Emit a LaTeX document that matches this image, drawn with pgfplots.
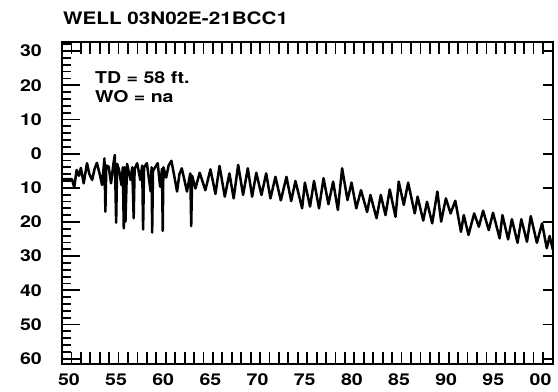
\documentclass[border=0pt]{standalone}
\usepackage{graphicx}
\usepackage{pgfplots}
\pgfplotsset{compat=1.18}
\usepackage{fontspec}
\setmainfont{TeX Gyre Heros}
\newcommand\labfont{\fontsize{16.3bp}{19.4bp}\selectfont\bfseries}
\newcommand\titfont{\fontsize{17.2bp}{20bp}\selectfont\bfseries}
\newcommand\sx[1]{\scalebox{1.2}[1]{#1}}
\pgfplotsset{base/.style={scale only axis, width=491bp, height=322.6bp,
  xmin=1949, xmax=2001.06, ymin=-32.75, ymax=61.66, y dir=reverse,
  at={(62bp,27.7bp)}, anchor=south west}}
\pgfplotstableread{
x y
1949.05 7.5
1950.05 7.5
1950.3 9.9
1950.55 4.8
1950.8 6.5
1951.0 4.2
1951.3 8.7
1951.65 2.8
1951.9 6.0
1952.2 7.7
1952.45 4.5
1952.7 2.7
1953.0 6.0
1953.25 9.2
1953.5 1.4
1953.6 17.0
1953.7 3.5
1953.95 3.8
1954.2 8.7
1954.45 3.0
1954.6 0.4
1954.74 20.2
1954.85 3.0
1955.05 4.8
1955.3 9.2
1955.45 4.0
1955.55 21.9
1955.63 4.0
1955.73 19.9
1955.9 3.0
1956.25 7.7
1956.45 4.0
1956.6 18.9
1956.7 4.5
1956.97 2.8
1957.3 7.7
1957.5 3.5
1957.6 22.2
1957.7 4.0
1958.0 2.8
1958.4 11.1
1958.5 4.0
1958.56 23.1
1958.65 5.0
1959.15 2.8
1959.4 9.7
1959.6 4.5
1959.68 22.6
1959.75 4.0
1960.05 7.0
1960.3 3.5
1960.6 2.1
1960.9 6.5
1961.2 11.1
1961.45 6.0
1961.7 4.3
1962.0 8.0
1962.25 11.1
1962.6 5.8
1962.7 21.2
1962.8 6.5
1963.15 10.2
1963.6 5.6
1964.2 10.7
1964.74 4.6
1965.27 11.8
1965.7 3.6
1966.26 12.6
1966.75 5.8
1967.2 13.1
1967.68 3.3
1968.2 12.1
1968.7 4.3
1969.16 12.6
1969.6 5.6
1970.15 12.1
1970.65 5.8
1971.1 13.1
1971.63 6.8
1972.2 13.7
1972.8 6.8
1973.3 13.9
1973.75 8.0
1974.46 16.0
1974.75 8.5
1975.3 15.5
1975.72 8.0
1976.25 16.0
1976.73 7.2
1977.25 14.8
1977.75 8.2
1978.25 16.5
1978.7 4.3
1979.27 13.6
1979.7 8.5
1980.2 16.0
1980.7 10.7
1981.35 17.1
1981.7 12.1
1982.35 18.9
1982.8 12.1
1983.3 18.0
1983.75 10.5
1984.36 18.5
1984.7 8.2
1985.24 15.0
1985.7 8.5
1986.4 17.5
1986.7 12.6
1987.3 19.6
1987.7 14.1
1988.25 20.4
1988.8 11.1
1989.2 19.9
1989.7 13.1
1990.2 17.5
1990.7 13.8
1991.3 22.9
1991.6 18.0
1992.1 23.8
1992.7 17.5
1993.2 21.4
1993.65 16.7
1994.25 22.4
1994.7 17.3
1995.4 24.8
1995.7 18.0
1996.3 25.1
1996.7 19.2
1997.3 26.1
1997.7 19.2
1998.3 25.8
1998.7 18.3
1999.35 26.1
1999.9 20.4
2000.4 27.7
2000.7 24.1
2001.05 28.2
}\welldata
\begin{document}
\begin{tikzpicture}
\begin{axis}[base,
  axis line style={line width=2bp},
  tick align=inside,
  major tick length=18bp, minor tick length=9bp,
  tick style={line width=1.8bp, black},
  xtick={1950,1955,...,2000},
  xticklabels={\sx{50},\sx{55},\sx{60},\sx{65},\sx{70},\sx{75},\sx{80},\sx{85},\sx{90},\sx{95},\sx{00}},
  xtick style={draw=none},
  xtick pos=left, ytick pos=left,
  ytick={-30,-20,...,60},
  yticklabels={\sx{30},\sx{20},\sx{10},\sx{0},\sx{10},\sx{20},\sx{30},\sx{40},\sx{50},\sx{60}},
  minor ytick={-32,-30,...,60},
  ticklabel style={font=\labfont},
  yticklabel style={anchor=east, inner sep=0pt, xshift=-20bp},
  xticklabel style={anchor=north, inner sep=0pt, yshift=-9bp, xshift=-2.5bp},
]
\addplot[black, line width=2.5bp, line join=round, mark=none] table[x=x, y=y] {\welldata};
\end{axis}
\begin{axis}[base, axis line style={draw=none},
  xtick={1950,1951,...,2000}, xticklabels={}, ytick=\empty,
  xtick pos=both, tick align=inside, major tick length=12.5bp,
  tick style={line width=1.8bp, black}]
\end{axis}
\begin{axis}[base, axis line style={draw=none},
  xtick=\empty, ytick={-30,-20,...,60}, yticklabels={},
  ytick pos=right, tick align=inside, major tick length=10bp,
  tick style={line width=1.8bp, black}]
\end{axis}
\begin{axis}[base, axis line style={draw=none},
  xtick=\empty, ytick=\empty, minor ytick={-32,-30,...,60},
  ytick pos=right, tick align=outside, minor tick length=5bp,
  tick style={line width=1.8bp, black}]
\end{axis}
\node[anchor=base west, inner sep=0pt, font=\titfont] at (63bp,367.5bp) {\sx{WELL 03N02E-21BCC1}};
\node[anchor=base west, inner sep=0pt, font=\labfont] at (95bp,308.7bp) {\sx{TD = 58 ft.}};
\node[anchor=base west, inner sep=0pt, font=\labfont] at (95bp,289.3bp) {\sx{WO = na}};
\pgfresetboundingbox
\path[use as bounding box] (0,0) rectangle (558bp,392bp);
\end{tikzpicture}
\end{document}
